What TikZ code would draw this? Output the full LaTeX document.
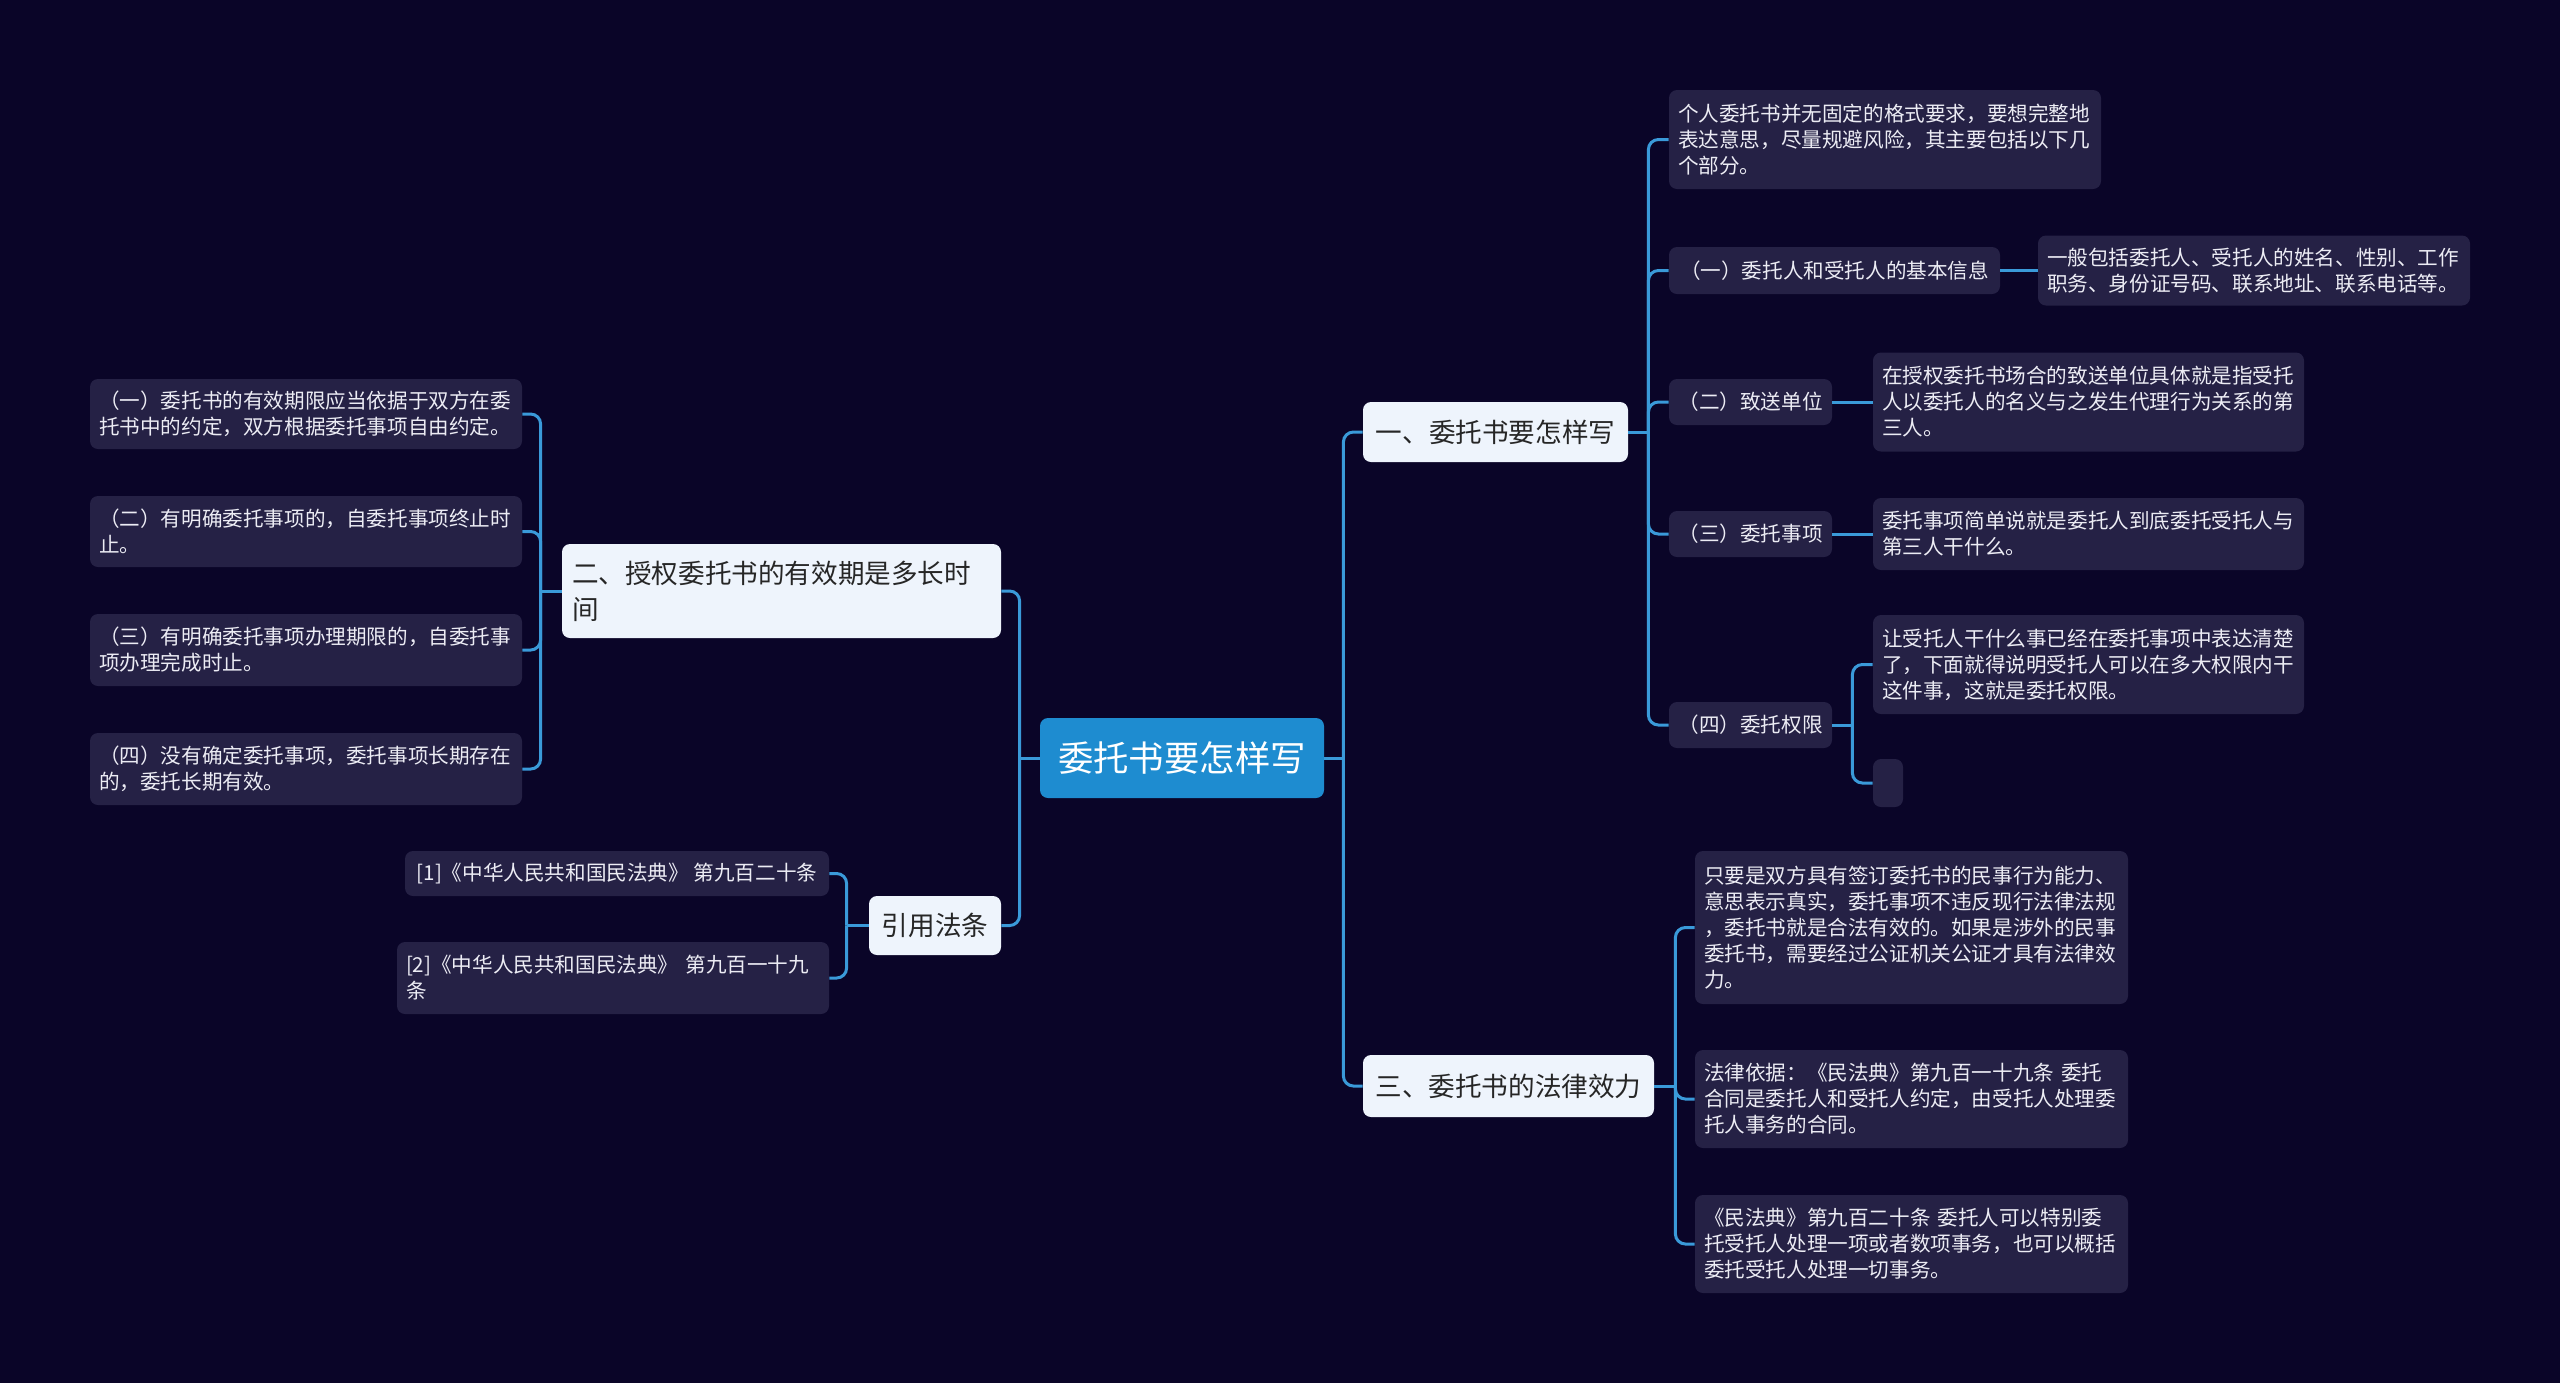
\documentclass[tikz,border=0pt]{standalone}
\usepackage{fontspec}
\setmainfont{Noto Sans CJK SC}
\usepackage{xcolor}
\usepackage{tikz}
\usetikzlibrary{positioning}
\definecolor{bgnavy}{HTML}{0A0528}
\definecolor{leafgray}{HTML}{252145}
\definecolor{linkblue}{HTML}{3A9AD9}
\definecolor{rootblue}{HTML}{1E8CD0}
\definecolor{topicfill}{HTML}{EEF4FC}
\definecolor{leaftext}{HTML}{ECECF4}

\begin{document}
\begin{tikzpicture}[x=0.5pt,y=-0.5pt,
  root/.style={fill=rootblue,text=white,rounded corners=4pt,font=\fontsize{17.7}{22}\selectfont,inner sep=0pt},
  topic/.style={fill=topicfill,text=black!85,rounded corners=4pt,font=\fontsize{13.3}{18}\selectfont,inner xsep=5pt,inner ysep=0pt,align=left},
  leaf/.style={fill=leafgray,text=leaftext,rounded corners=4pt,font=\fontsize{10.3}{13}\selectfont,inner xsep=4.5pt,inner ysep=0pt,align=left},
  link/.style={draw=linkblue,line width=1.5pt,rounded corners=5pt}]
  % canvas in px of the 2560x1383 screenshot, y grows downwards
  \fill[bgnavy] (0,0) rectangle (2560,1383);
  \useasboundingbox (0,0) rectangle (2560,1383);

  \node[root,minimum width=142pt,minimum height=40pt] (root) at (1182,758) {委托书要怎样写};

  % main topics
  \node[topic,minimum width=132.5pt,minimum height=30pt] (one) at (1495.5,432) {一、委托书要怎样写};
  \node[topic,text width=209.5pt,minimum height=47pt] (two) at (781.5,591) {二、授权委托书的有效期是多长时\\间};
  \node[topic,minimum width=66pt,minimum height=29.5pt] (law) at (935,925.5) {引用法条};
  \node[topic,minimum width=145.5pt,minimum height=31pt] (three) at (1508.5,1086) {三、委托书的法律效力};

  % 一
  \node[leaf,text width=207pt,minimum height=49.5pt] (intro) at (1885,139.5) {个人委托书并无固定的格式要求，要想完整地\\表达意思，尽量规避风险，其主要包括以下几\\个部分。};
  \node[leaf,minimum width=165.5pt,minimum height=23.5pt] (info) at (1834.5,270.5) {（一）委托人和受托人的基本信息};
  \node[leaf,text width=207pt,minimum height=35pt] (infod) at (2254,270.5) {一般包括委托人、受托人的姓名、性别、工作\\职务、身份证号码、联系地址、联系电话等。};
  \node[leaf,minimum width=81.5pt,minimum height=23pt] (unit) at (1750.5,402) {（二）致送单位};
  \node[leaf,text width=206.5pt,minimum height=49.5pt] (unitd) at (2088.5,402) {在授权委托书场合的致送单位具体就是指受托\\人以委托人的名义与之发生代理行为关系的第\\三人。};
  \node[leaf,minimum width=81.5pt,minimum height=23pt] (item) at (1750.5,534) {（三）委托事项};
  \node[leaf,text width=206.5pt,minimum height=36pt] (itemd) at (2088.5,534) {委托事项简单说就是委托人到底委托受托人与\\第三人干什么。};
  \node[leaf,minimum width=81.5pt,minimum height=23pt] (auth) at (1750.5,725) {（四）委托权限};
  \node[leaf,text width=206.5pt,minimum height=49.5pt] (authd) at (2088.5,664.5) {让受托人干什么事已经在委托事项中表达清楚\\了，下面就得说明受托人可以在多大权限内干\\这件事，这就是委托权限。};
  \node[leaf,minimum width=15pt,minimum height=24pt,inner sep=0pt] (authe) at (1888,783) {};

  % 二
  \node[leaf,text width=207pt,minimum height=35pt] (term1) at (306,414) {（一）委托书的有效期限应当依据于双方在委\\托书中的约定，双方根据委托事项自由约定。};
  \node[leaf,text width=207pt,minimum height=35.5pt] (term2) at (306,531.5) {（二）有明确委托事项的，自委托事项终止时\\止。};
  \node[leaf,text width=207pt,minimum height=36pt] (term3) at (306,650) {（三）有明确委托事项办理期限的，自委托事\\项办理完成时止。};
  \node[leaf,text width=207pt,minimum height=36pt] (term4) at (306,769) {（四）没有确定委托事项，委托事项长期存在\\的，委托长期有效。};

  % 引用法条
  \node[leaf,minimum width=212pt,minimum height=22.5pt] (cite1) at (617,873.5) {[1]《中华人民共和国民法典》 第九百二十条};
  \node[leaf,text width=207pt,minimum height=36pt] (cite2) at (613,978) {[2]《中华人民共和国民法典》 第九百一十九\\条};

  % 三
  \node[leaf,text width=207.5pt,minimum height=76.5pt] (eff1) at (1911.5,927.5) {只要是双方具有签订委托书的民事行为能力、\\意思表示真实，委托事项不违反现行法律法规\\，委托书就是合法有效的。如果是涉外的民事\\委托书，需要经过公证机关公证才具有法律效\\力。};
  \node[leaf,text width=207.5pt,minimum height=49pt] (eff2) at (1911.5,1099) {法律依据：《民法典》第九百一十九条 委托\\合同是委托人和受托人约定，由受托人处理委\\托人事务的合同。};
  \node[leaf,text width=207.5pt,minimum height=49pt] (eff3) at (1911.5,1244) {《民法典》第九百二十条 委托人可以特别委\\托受托人处理一项或者数项事务，也可以概括\\委托受托人处理一切事务。};

  % branches
  \draw[link] (root.east) -- ++(19,0) coordinate (jr);
  \foreach \n in {one,three} \draw[link] (jr) |- (\n.west);
  \draw[link] (root.west) -- ++(-20,0) coordinate (jl);
  \foreach \n in {two,law} \draw[link] (jl) |- (\n.east);
  \draw[link] (one.east) -- ++(20,0) coordinate (j1);
  \foreach \n in {intro,info,unit,item,auth} \draw[link] (j1) |- (\n.west);
  \draw[link] (info.east) -- (infod.west);
  \draw[link] (unit.east) -- (unitd.west);
  \draw[link] (item.east) -- (itemd.west);
  \draw[link] (auth.east) -- ++(20,0) coordinate (j4);
  \foreach \n in {authd,authe} \draw[link] (j4) |- (\n.west);
  \draw[link] (two.west) -- ++(-21,0) coordinate (j2);
  \foreach \n in {term1,term2,term3,term4} \draw[link] (j2) |- (\n.east);
  \draw[link] (law.west) -- ++(-22,0) coordinate (j3);
  \foreach \n in {cite1,cite2} \draw[link] (j3) |- (\n.east);
  \draw[link] (three.east) -- ++(21,0) coordinate (j5);
  \foreach \n in {eff1,eff2,eff3} \draw[link] (j5) |- (\n.west);
\end{tikzpicture}
\end{document}
